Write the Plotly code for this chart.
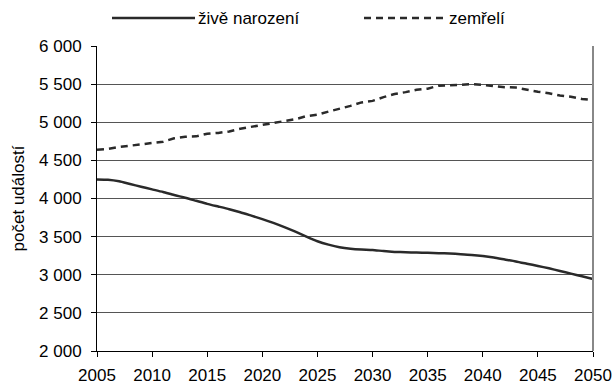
import plotly.graph_objects as go

years = list(range(2005, 2051))

# live births per year
births = [4250, 4245, 4225, 4190, 4155, 4120, 4085, 4045, 4010, 3970,
          3930, 3895, 3860, 3820, 3775, 3730, 3680, 3625, 3565, 3500,
          3440, 3395, 3360, 3340, 3330, 3325, 3310, 3300, 3295, 3292,
          3288, 3283, 3278, 3270, 3260, 3245, 3225, 3200, 3175, 3145,
          3115, 3085, 3050, 3015, 2980, 2945]

# deaths per year
deaths = [4640, 4650, 4675, 4695, 4710, 4735, 4745, 4790, 4810, 4815,
          4850, 4860, 4880, 4915, 4940, 4970, 4995, 5015, 5040, 5080,
          5100, 5140, 5175, 5215, 5260, 5280, 5330, 5370, 5395, 5425,
          5440, 5480, 5485, 5490, 5500, 5490, 5470, 5460, 5455, 5425,
          5400, 5380, 5350, 5335, 5305, 5290]

x_ticks = list(range(2005, 2051, 5))
y_ticks = list(range(2000, 6001, 500))

series_names = ["živě narození", "zemřelí"]
line_color = "#2a2a2a"
solid = dict(color=line_color, width=2.5)
dashed = dict(color=line_color, width=2.5, dash="7px,5px")

font = dict(family="Liberation Sans, Arial, sans-serif", size=17, color="#000")

# plot area in pixels
L, R, T, B = 97, 22, 46, 34
W, H = 615, 385
pw, ph = W - L - R, H - T - B


def px_x(px):
    return (px - L) / pw


def px_y(py):
    return (H - B - py) / ph


fig = go.Figure()
fig.add_trace(go.Scatter(
    x=years, y=births, mode="lines", name=series_names[0],
    line=dict(solid, shape="spline", smoothing=0.6), showlegend=False,
))
fig.add_trace(go.Scatter(
    x=years, y=deaths, mode="lines", name=series_names[1],
    line=dashed, showlegend=False,
))

fig.update_layout(
    width=W, height=H,
    margin=dict(l=L, r=R, t=T, b=B, autoexpand=False),
    paper_bgcolor="white", plot_bgcolor="white",
    font=font,
    separators=", ",
    xaxis=dict(
        range=[2005, 2050], tickvals=x_ticks, ticktext=[str(v) for v in x_ticks],
        showgrid=False, zeroline=False,
        showline=True, linecolor="#000", linewidth=1,
        ticks="outside", ticklen=5, tickcolor="#000",
        ticklabelstandoff=4,
        tickfont=font,
    ),
    yaxis=dict(
        range=[2000, 6000], tickvals=y_ticks, tickformat=",d",
        showgrid=True, gridcolor="#555", gridwidth=1, zeroline=False,
        showline=True, linecolor="#000", linewidth=1,
        ticks="outside", ticklen=5, tickcolor="#000",
        ticklabelstandoff=6,
        tickfont=font,
        title=dict(text="počet událostí", font=font, standoff=10),
    ),
)

# right border of the plot area
fig.add_shape(type="line", xref="paper", yref="paper",
              x0=1, x1=1, y0=0, y1=1,
              line=dict(color="#888", width=2))

# legend: long line samples followed by the series names
legend_y = px_y(18)
for (x0, x1), style, name in [((112, 195), solid, series_names[0]),
                              ((364, 446), dashed, series_names[1])]:
    fig.add_shape(type="line", xref="paper", yref="paper",
                  x0=px_x(x0), x1=px_x(x1), y0=legend_y, y1=legend_y,
                  line=style)
    fig.add_annotation(text=name, xref="paper", yref="paper",
                       x=px_x(x1 + 1), y=legend_y, xanchor="left",
                       yanchor="middle", showarrow=False, font=font)

fig.write_html("out.html")
